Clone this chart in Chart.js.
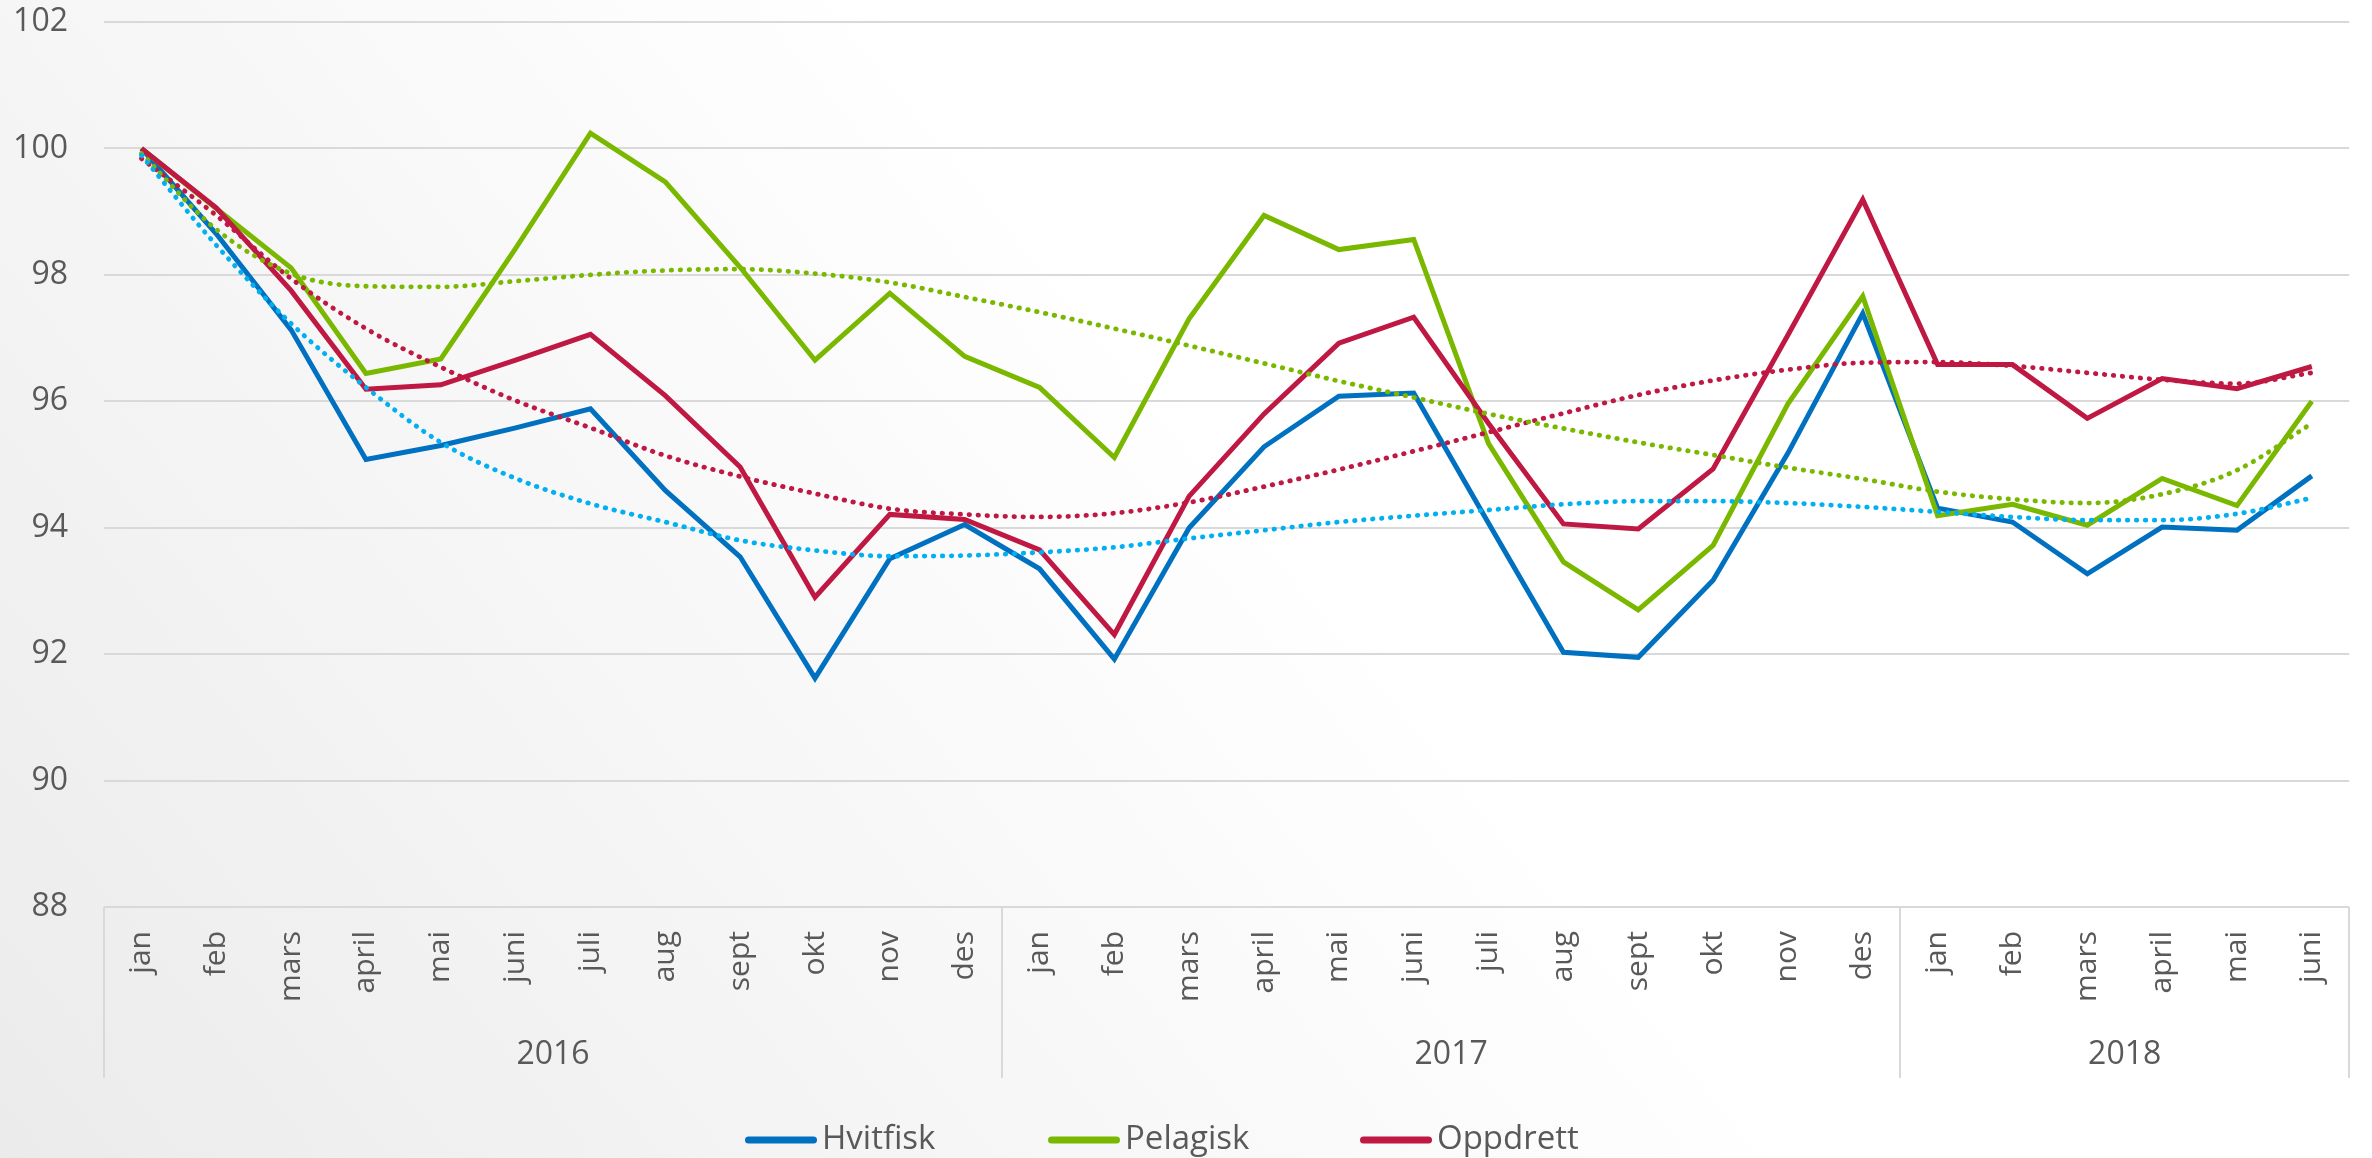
<!DOCTYPE html>
<html>
<head>
<meta charset="utf-8">
<script src="https://cdn.jsdelivr.net/npm/chart.js@4.4.1/dist/chart.umd.min.js"></script>
<style>
  html, body { margin: 0; padding: 0; width: 2372px; height: 1158px; overflow: hidden; }
  body { background: linear-gradient(51deg, #ebebeb 0%, #f6f6f6 30%, #ffffff 55%); }
  #wrap { position: relative; width: 2372px; height: 1158px; }
</style>
</head>
<body>
<div id="wrap"><canvas id="c" width="2372" height="1158"></canvas></div>
<script>
// ---- data ----
const months = ['jan','feb','mars','april','mai','juni','juli','aug','sept','okt','nov','des',
                'jan','feb','mars','april','mai','juni','juli','aug','sept','okt','nov','des',
                'jan','feb','mars','april','mai','juni'];
const years = ['2016','2017','2018'];
const monthsPerYear = [12, 12, 6];
const seriesNames = ['Hvitfisk','Pelagisk','Oppdrett'];
const yTicks = [88, 90, 92, 94, 96, 98, 100, 102];

const hvitfisk = [100, 98.65, 97.13, 95.08, 95.30, 95.58, 95.88, 94.59, 93.54, 91.62, 93.51, 94.05,
                  93.35, 91.92, 94.00, 95.28, 96.08, 96.13, 94.07, 92.03, 91.95, 93.17, 95.18, 97.39,
                  94.31, 94.09, 93.27, 94.01, 93.96, 94.82];
const pelagisk = [100, 99.05, 98.11, 96.44, 96.67, 98.42, 100.24, 99.47, 98.12, 96.65, 97.71, 96.71,
                  96.22, 95.11, 97.31, 98.94, 98.40, 98.56, 95.33, 93.46, 92.70, 93.72, 95.96, 97.66,
                  94.19, 94.37, 94.04, 94.78, 94.35, 96.00];
const oppdrett = [100, 99.06, 97.75, 96.19, 96.26, 96.65, 97.06, 96.09, 94.96, 92.90, 94.21, 94.13,
                  93.65, 92.31, 94.50, 95.80, 96.92, 97.33, 95.65, 94.06, 93.98, 94.93, 97.05, 99.19,
                  96.58, 96.58, 95.73, 96.36, 96.20, 96.55];

// dotted trend lines
const hvitfiskTrend = [99.89, 98.47, 97.23, 96.22, 95.35, 94.78, 94.38, 94.09, 93.80, 93.64, 93.55, 93.56,
                       93.61, 93.69, 93.83, 93.96, 94.09, 94.19, 94.28, 94.37, 94.42, 94.42, 94.39, 94.33,
                       94.25, 94.17, 94.12, 94.12, 94.22, 94.47];
const pelagiskTrend = [99.92, 98.72, 98.02, 97.82, 97.81, 97.90, 98.00, 98.07, 98.09, 98.02, 97.88, 97.65,
                       97.41, 97.15, 96.88, 96.60, 96.32, 96.06, 95.80, 95.57, 95.35, 95.15, 94.95, 94.77,
                       94.57, 94.45, 94.39, 94.53, 94.91, 95.65];
const oppdrettTrend = [99.84, 98.94, 97.94, 97.15, 96.54, 96.01, 95.58, 95.14, 94.81, 94.54, 94.30, 94.21,
                       94.17, 94.23, 94.40, 94.65, 94.92, 95.21, 95.51, 95.81, 96.10, 96.33, 96.50, 96.61,
                       96.62, 96.56, 96.45, 96.34, 96.28, 96.45];

// ---- style ----
const lineColors  = ['#0070C0', '#7AB800', '#BE1843'];
const trendColors = ['#00B0F0', '#7AB800', '#BE1843'];
const textColor = '#595959';
const gridColor = '#d9d9d9';
const FONT = '"Open Sans", "Liberation Sans", sans-serif';
const AXIS_H = 171;
const legendStarts = [745, 1048, 1360];

const groupAxisPlugin = {
  id: 'groupAxis',
  afterDraw(chart) {
    const { ctx, chartArea } = chart;
    const x = chart.scales.x;
    const edge = i => x.getPixelForValue(i - 0.5);
    const bounds = [0];
    let acc = 0;
    monthsPerYear.forEach(c => { acc += c; bounds.push(acc); });
    const top = chartArea.bottom;
    const bottom = chartArea.bottom + AXIS_H;
    ctx.save();
    ctx.strokeStyle = gridColor;
    ctx.lineWidth = 2;
    bounds.forEach(b => {
      const px = Math.round(edge(b));
      ctx.beginPath();
      ctx.moveTo(px, top);
      ctx.lineTo(px, bottom);
      ctx.stroke();
    });
    ctx.fillStyle = textColor;
    ctx.font = '32px ' + FONT;
    ctx.textAlign = 'center';
    ctx.textBaseline = 'middle';
    years.forEach((y, i) => {
      const cx = (edge(bounds[i]) + edge(bounds[i + 1])) / 2;
      ctx.fillText(y, cx, chartArea.bottom + 148);
    });
    // legend
    const ly = 1140;
    ctx.textAlign = 'left';
    ctx.font = '33px ' + FONT;
    seriesNames.forEach((name, i) => {
      const sx = legendStarts[i];
      ctx.strokeStyle = lineColors[i];
      ctx.lineWidth = 7;
      ctx.lineCap = 'round';
      ctx.beginPath();
      ctx.moveTo(sx + 3.5, ly);
      ctx.lineTo(sx + 68.5, ly);
      ctx.stroke();
      ctx.fillStyle = textColor;
      ctx.fillText(name, sx + 77, ly);
    });
    ctx.restore();
  }
};

function mainSet(i, data, order) {
  return {
    label: seriesNames[i], data, borderColor: lineColors[i], backgroundColor: lineColors[i],
    borderWidth: 5, pointRadius: 0, pointHoverRadius: 0, tension: 0, fill: false, order
  };
}
function trendSet(i, data) {
  return {
    label: seriesNames[i] + ' trend', data, borderColor: trendColors[i], backgroundColor: trendColors[i],
    borderWidth: 4.8, borderDash: [0.5, 8.5], borderCapStyle: 'round', cubicInterpolationMode: 'monotone',
    pointRadius: 0, pointHoverRadius: 0, fill: false, order: 0
  };
}

new Chart(document.getElementById('c'), {
  type: 'line',
  data: {
    labels: months,
    datasets: [
      mainSet(0, hvitfisk, 3),
      mainSet(1, pelagisk, 2),
      mainSet(2, oppdrett, 1),
      trendSet(0, hvitfiskTrend),
      trendSet(1, pelagiskTrend),
      trendSet(2, oppdrettTrend)
    ]
  },
  options: {
    responsive: false,
    animation: false,
    devicePixelRatio: 1,
    layout: { padding: { top: 22, right: 11, bottom: 80, left: 0 } },
    plugins: { legend: { display: false }, tooltip: { enabled: false } },
    scales: {
      x: {
        type: 'category',
        offset: true,
        grid: { display: false, drawTicks: false },
        border: { display: false },
        ticks: {
          autoSkip: false, minRotation: 90, maxRotation: 90, padding: 24,
          color: textColor, font: { family: FONT, size: 30 }
        },
        afterFit(scale) { scale.height = AXIS_H; }
      },
      y: {
        min: 88, max: 102,
        afterBuildTicks(scale) { scale.ticks = yTicks.map(v => ({ value: v })); },
        grid: { color: gridColor, lineWidth: 2, drawTicks: false },
        border: { display: false },
        ticks: { padding: 36, color: textColor, font: { family: FONT, size: 32 } },
        afterFit(scale) { scale.width = 104; scale.paddingTop = 0; scale.paddingBottom = 0; }
      }
    }
  },
  plugins: [groupAxisPlugin]
});
</script>
</body>
</html>
